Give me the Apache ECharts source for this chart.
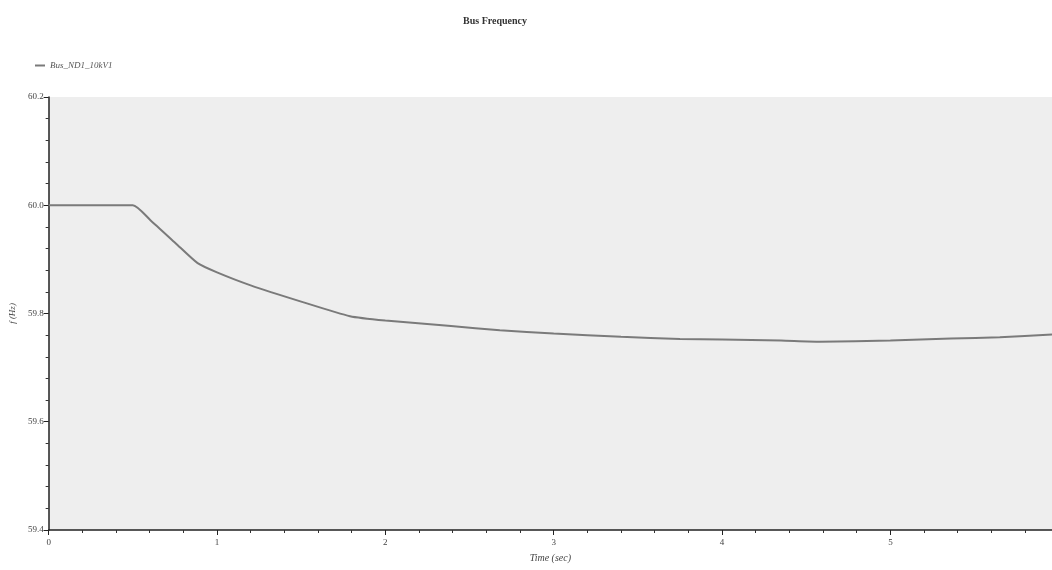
<!DOCTYPE html>
<html><head><meta charset="utf-8">
<script src="https://cdn.jsdelivr.net/npm/echarts@6/dist/echarts.min.js"></script>
<style>html,body{margin:0;padding:0;background:#fff}#c{width:1052px;height:570px}</style>
</head><body><div id="c"></div>
<script>
const chartTitle = 'Bus Frequency';
const seriesName = 'Bus_ND1_10kV1';
const xAxisName = 'Time (sec)';
const yAxisName = 'f (Hz)';
const timeValues = [0, 0.5, 0.606, 0.754, 0.885, 1.0, 1.2, 1.5, 1.79, 2.0, 2.39, 2.68, 3.0, 3.4, 3.75, 4.0, 4.35, 4.58, 5.0, 5.36, 5.65, 5.96];
const freqValues = [60.0, 60.0, 59.972, 59.930, 59.893, 59.876, 59.852, 59.822, 59.795, 59.787, 59.777, 59.769, 59.763, 59.757, 59.753, 59.752, 59.750, 59.748, 59.750, 59.754, 59.756, 59.761];
const yTicks = [59.4, 59.6, 59.8, 60.0, 60.2];

const chart = echarts.init(document.getElementById('c'));
chart.setOption({
  animation: false,
  backgroundColor: '#fff',
  title: { text: chartTitle, left: 490, top: 11, textAlign: 'center',
    textStyle: { fontFamily: 'Liberation Serif', fontSize: 10, fontWeight: 'bold', color: '#333' } },
  legend: { left: 30, top: 56, itemWidth: 10, itemHeight: 2, icon: 'rect',
    textStyle: { fontFamily: 'Liberation Serif', fontSize: 9, fontStyle: 'italic', color: '#555' },
    data: [seriesName] },
  grid: { left: 48, right: 0, top: 97, bottom: 40, backgroundColor: '#eeeeee', show: true, borderWidth: 0 },
  xAxis: { type: 'value', min: 0, max: 5.96, interval: 1,
    name: xAxisName, nameLocation: 'middle', nameGap: 23,
    nameTextStyle: { fontFamily: 'Liberation Serif', fontSize: 10, fontStyle: 'italic', color: '#444' },
    axisLine: { lineStyle: { color: '#222', width: 1.5 } },
    axisTick: { show: true, length: 5, inside: false, lineStyle: { color: '#222' } },
    minorTick: { show: true, splitNumber: 5, length: 3, lineStyle: { color: '#333' } },
    axisLabel: { showMaxLabel: false, fontFamily: 'Liberation Serif', fontSize: 9, color: '#444', margin: 8 },
    splitLine: { show: false } },
  yAxis: { type: 'value', min: 59.4, max: 60.2, interval: 0.2,
    name: yAxisName, nameLocation: 'middle', nameGap: 30, nameRotate: 90,
    nameTextStyle: { fontFamily: 'Liberation Serif', fontSize: 9, fontStyle: 'italic', color: '#444' },
    axisLine: { show: true, lineStyle: { color: '#222', width: 1.5 } },
    axisTick: { show: true, length: 5, lineStyle: { color: '#222' } },
    minorTick: { show: true, splitNumber: 5, length: 3, lineStyle: { color: '#333' } },
    axisLabel: { fontFamily: 'Liberation Serif', fontSize: 9, color: '#444', margin: 5,
      formatter: v => yTicks.find(t => Math.abs(t - v) < 1e-6).toFixed(1) },
    splitLine: { show: false } },
  series: [{ name: seriesName, type: 'line', showSymbol: false, smooth: 0.2,
    lineStyle: { color: '#7a7a7a', width: 2 }, itemStyle: { color: '#7a7a7a' },
    data: timeValues.map((t, i) => [t, freqValues[i]]) }]
});
</script></body></html>
